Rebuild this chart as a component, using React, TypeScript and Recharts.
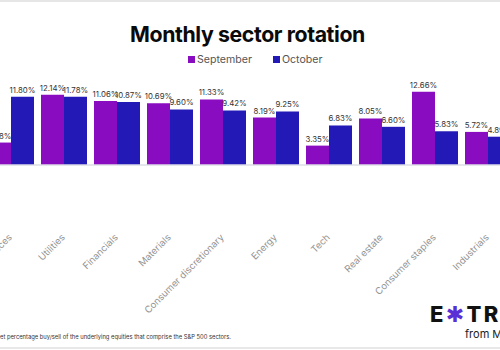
import React from "react";
import { BarChart, Bar, XAxis, YAxis, LabelList } from "recharts";

const categories = [
  "Communication services",
  "Utilities",
  "Financials",
  "Materials",
  "Consumer discretionary",
  "Energy",
  "Tech",
  "Real estate",
  "Consumer staples",
  "Industrials",
];
const september = [3.88, 12.14, 11.06, 10.69, 11.33, 8.19, 3.35, 8.05, 12.66, 5.72];
const october = [11.8, 11.78, 10.87, 9.6, 9.42, 9.25, 6.83, 6.6, 5.83, 4.89];

const data = categories.map((c, i) => ({ name: c, september: september[i], october: october[i] }));

const PURPLE = "#8a0cc0";
const BLUE = "#2219b6";
const FONT = "Inter, 'Noto Sans', sans-serif";

const fmt = (v: any) => `${Number(v).toFixed(2)}%`;

const Tick = (props: any) => {
  const { x, y, payload } = props;
  return (
    <g transform={`translate(${x + 2},${y + 73})`}>
      <text
        x={0}
        y={0}
        textAnchor="end"
        transform="rotate(-45)"
        fontSize={9.5}
        fill="#939393"
        fontFamily={FONT}
      >
        {payload.value}
      </text>
    </g>
  );
};

export default function App() {
  return (
    <div
      style={{
        position: "fixed",
        left: 0,
        top: 0,
        width: 500,
        height: 350,
        overflow: "hidden",
        background: "#fff",
        fontFamily: FONT,
      }}
    >
      <div style={{ position: "absolute", left: 0, top: 0, width: 500, height: 2, background: "#e6e6e6" }} />
      <div
        style={{
          position: "absolute",
          left: 0,
          top: 21,
          width: 495,
          textAlign: "center",
          fontSize: 21.3,
          fontWeight: 700,
          color: "#0a0a0a",
          letterSpacing: -0.4,
        }}
      >
        Monthly sector rotation
      </div>
      <div
        style={{
          position: "absolute",
          left: 188,
          top: 53,
          display: "flex",
          alignItems: "center",
          fontSize: 10.6,
          color: "#555",
        }}
      >
        <span style={{ width: 7, height: 7, background: PURPLE, display: "inline-block", marginRight: 2 }} />
        <span>September</span>
        <span style={{ width: 7, height: 7, background: BLUE, display: "inline-block", marginLeft: 21, marginRight: 2 }} />
        <span>October</span>
      </div>
      <BarChart
        width={530}
        height={350}
        data={data}
        margin={{ top: 84, right: 0, bottom: 0, left: 0 }}
        barGap={0}
        style={{ position: "absolute", left: -16, top: 0 }}
      >
        <XAxis
          dataKey="name"
          height={185}
          tickLine={false}
          tickSize={0}
          tickMargin={0}
          axisLine={{ stroke: "#dcdce6", strokeWidth: 1.5 }}
          tick={<Tick />}
          interval={0}
        />
        <YAxis hide domain={[0, 14]} />
        <Bar dataKey="september" fill={PURPLE} barSize={23} isAnimationActive={false}>
          <LabelList dataKey="september" position="top" offset={4} formatter={fmt} fontSize={7.8} fill="#333" fontFamily={FONT} />
        </Bar>
        <Bar dataKey="october" fill={BLUE} barSize={23} isAnimationActive={false}>
          <LabelList dataKey="october" position="top" offset={4} formatter={fmt} fontSize={7.8} fill="#333" fontFamily={FONT} />
        </Bar>
      </BarChart>
      <div
        style={{
          position: "absolute",
          left: 0,
          top: 333,
          fontSize: 5.8,
          color: "#333",
          whiteSpace: "nowrap",
        }}
      >
        et percentage buy/sell of the underlying equities that comprise the S&amp;P 500 sectors.
      </div>
      <div
        style={{
          position: "absolute",
          left: 430,
          top: 301,
          fontSize: 22,
          fontWeight: 800,
          color: "#111",
          whiteSpace: "nowrap",
          letterSpacing: 2.3,
        }}
      >
        E<span style={{ color: "#5a2fd6", fontFamily: "'DejaVu Sans'" }}>✱</span>TRADE
      </div>
      <div
        style={{
          position: "absolute",
          left: 465,
          top: 327,
          fontSize: 11,
          color: "#222",
          whiteSpace: "nowrap",
        }}
      >
        from Morgan Stanley
      </div>
      <div style={{ position: "absolute", left: 0, top: 347, width: 500, height: 2, background: "#e8e8e8" }} />
    </div>
  );
}
